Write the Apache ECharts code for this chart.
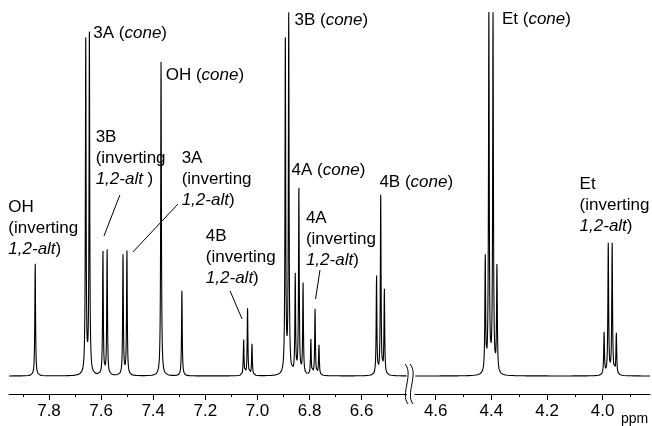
<!DOCTYPE html>
<html>
<head>
<meta charset="utf-8">
<script src="https://cdn.jsdelivr.net/npm/echarts@6/dist/echarts.min.js"></script>
<style>
html,body{margin:0;padding:0;background:#fff;}
#chart{width:652px;height:426px;}
</style>
</head>
<body>
<div id="chart"></div>
<script>
// ---- data (ppm, intensity) ----
const leftPeakPpm    = [7.853, 7.659, 7.645, 7.593, 7.577, 7.516, 7.501, 7.370, 7.290,
                        7.053, 7.038, 7.021, 6.893, 6.880, 6.855, 6.841, 6.825,
                        6.795, 6.779, 6.764, 6.543, 6.527, 6.513];
const leftPeakHeight = [114, 334, 340, 125, 127, 120, 126, 314, 85,
                        36, 67, 32, 333, 358, 100, 185, 92,
                        36, 67, 32, 100, 179, 86];
const rightPeakPpm    = [4.422, 4.409, 4.394, 4.380, 3.995, 3.980, 3.966, 3.951];
const rightPeakHeight = [115, 358, 358, 106, 43, 131, 131, 42];
const peakHalfWidth = 0.0016; // ppm (Lorentzian HWHM)

const leftRange  = [6.428, 7.9535];
const rightRange = [3.830, 4.6744];
const leftMajorTicks  = [7.8, 7.6, 7.4, 7.2, 7.0, 6.8, 6.6];
const leftMinorTicks  = [7.9, 7.7, 7.5, 7.3, 7.1, 6.9, 6.7, 6.5];
const rightMajorTicks = [4.6, 4.4, 4.2, 4.0];
const rightMinorTicks = [4.5, 4.3, 4.1, 3.9];
const unitLabel = 'ppm';

// annotations: grid index, anchor (ppm, intensity) of first line centre, text
const annotations = [
  {g:0, ppm:7.630, v:343, text:'3A ({i|cone})'},
  {g:0, ppm:7.352, v:301, text:'OH ({i|cone})'},
  {g:0, ppm:7.621, v:239, text:'3B\n(inverting\n{i|1,2-alt} )'},
  {g:0, ppm:7.291, v:218, text:'3A\n(inverting\n{i|1,2-alt})'},
  {g:0, ppm:7.956, v:169, text:'OH\n(inverting\n{i|1,2-alt})'},
  {g:0, ppm:7.198, v:140, text:'4B\n(inverting\n{i|1,2-alt})'},
  {g:0, ppm:6.858, v:356, text:'3B ({i|cone})'},
  {g:0, ppm:6.869, v:206, text:'4A ({i|cone})'},
  {g:0, ppm:6.814, v:158, text:'4A\n(inverting\n{i|1,2-alt})'},
  {g:0, ppm:6.532, v:194, text:'4B ({i|cone})'},
  {g:1, ppm:4.362, v:357, text:'Et ({i|cone})'},
  {g:1, ppm:4.083, v:192, text:'Et\n(inverting\n{i|1,2-alt})'}
];
// leader lines: grid, [ppm, v] -> [ppm, v]
const leaders = [
  {g:0, a:[7.528, 181], b:[7.589, 140]},
  {g:0, a:[7.305, 172], b:[7.478, 124]},
  {g:0, a:[7.105, 85],  b:[7.059, 57]},
  {g:0, a:[6.760, 106], b:[6.777, 77]}
];

function spectrum(ppms, heights, range) {
  const xs = [];
  for (let x = range[0]; x <= range[1] + 1e-9; x += 0.0004) xs.push(x);
  ppms.forEach(p => xs.push(p));
  xs.sort((a, b) => a - b);
  const w2 = peakHalfWidth * peakHalfWidth;
  return xs.map(x => {
    let s = 0;
    for (let i = 0; i < ppms.length; i++) {
      const d = x - ppms[i];
      s += heights[i] * w2 / (d * d + w2);
    }
    return [x, s];
  });
}

const FONT = '"Liberation Sans", Arial, sans-serif';
const chart = echarts.init(document.getElementById('chart'), null, {renderer: 'canvas'});

function xAxisDef(grid, range, ticks, major) {
  return {
    type: 'value', gridIndex: grid, position: 'bottom', min: range[0], max: range[1], inverse: true,
    axisLine: {show: major, onZero: false, lineStyle: {color: '#000', width: 1}},
    axisTick: {show: true, inside: false, length: major ? 6 : 3, customValues: ticks,
               lineStyle: {color: '#000', width: 1}},
    axisLabel: major ? {show: true, customValues: ticks, formatter: v => v.toFixed(1),
               color: '#000', fontSize: 17, fontFamily: FONT, margin: 9} : {show: false},
    splitLine: {show: false}
  };
}

chart.setOption({
  animation: false,
  backgroundColor: '#fff',
  grid: [
    {left: 9, width: 397.5, top: 10, bottom: 32},
    {left: 415, width: 235, top: 10, bottom: 32}
  ],
  xAxis: [
    xAxisDef(0, leftRange, leftMajorTicks, true),
    xAxisDef(0, leftRange, leftMinorTicks, false),
    xAxisDef(1, rightRange, rightMajorTicks, true),
    xAxisDef(1, rightRange, rightMinorTicks, false)
  ],
  yAxis: [
    {type: 'value', gridIndex: 0, min: -18, max: 366, show: false},
    {type: 'value', gridIndex: 1, min: -18, max: 366, show: false}
  ],
  series: [
    {type: 'line', xAxisIndex: 0, yAxisIndex: 0, data: spectrum(leftPeakPpm, leftPeakHeight, leftRange),
     symbol: 'none', lineStyle: {color: '#000', width: 1.1}, silent: true, clip: true},
    {type: 'line', xAxisIndex: 2, yAxisIndex: 1, data: spectrum(rightPeakPpm, rightPeakHeight, rightRange),
     symbol: 'none', lineStyle: {color: '#000', width: 1.1}, silent: true, clip: true}
  ]
});

const LH = 21;
const graphics = [];
annotations.forEach(a => {
  const p = chart.convertToPixel({gridIndex: a.g}, [a.ppm, a.v]);
  graphics.push({
    type: 'text', x: p[0], y: p[1] - LH / 2, silent: true,
    style: {
      text: a.text, fill: '#000', fontSize: 17, fontFamily: FONT, lineHeight: LH,
      verticalAlign: 'top', align: 'left',
      rich: {i: {fontStyle: 'italic', fontSize: 17, fontFamily: FONT, lineHeight: LH, fill: '#000'}}
    }
  });
});
leaders.forEach(l => {
  const p1 = chart.convertToPixel({gridIndex: l.g}, l.a);
  const p2 = chart.convertToPixel({gridIndex: l.g}, l.b);
  graphics.push({type: 'line', silent: true,
    shape: {x1: p1[0], y1: p1[1], x2: p2[0], y2: p2[1]},
    style: {stroke: '#000', lineWidth: 1}});
});
// axis-break marks
[0, 5].forEach(dx => {
  graphics.push({type: 'bezierCurve', silent: true,
    shape: {x1: 405 + dx, y1: 364, cpx1: 414 + dx, cpy1: 374, cpx2: 400 + dx, cpy2: 394, x2: 408 + dx, y2: 404},
    style: {stroke: '#000', lineWidth: 1, fill: null}});
});
// unit label
graphics.push({type: 'text', x: 621, y: 419, silent: true,
  style: {text: unitLabel, fill: '#000', fontSize: 14, fontFamily: FONT, verticalAlign: 'middle'}});

chart.setOption({graphic: graphics});
</script>
</body>
</html>
